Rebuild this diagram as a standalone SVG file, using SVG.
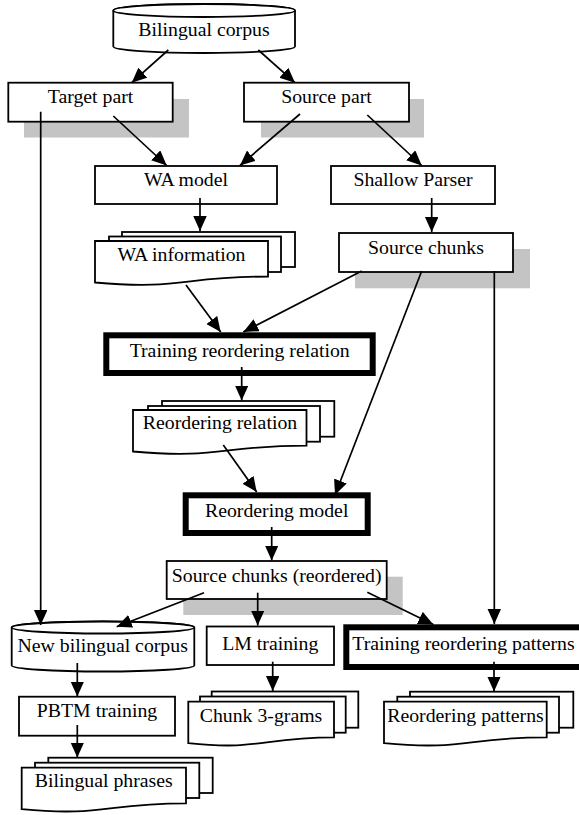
<svg xmlns="http://www.w3.org/2000/svg" width="579" height="815" viewBox="0 0 579 815">
<style>
.box{fill:#fff;stroke:#000;stroke-width:1.8}
.thick{fill:#fff;stroke:#000;stroke-width:6}
.sh{fill:#c4c4c4}
.t{font-family:"Liberation Serif","Times New Roman",serif;font-size:19.8px;fill:#000;text-anchor:middle}
.c{fill:none;stroke:#000;stroke-width:1.7;marker-end:url(#ah)}
</style>
<defs>
<marker id="ah" markerUnits="userSpaceOnUse" markerWidth="16" markerHeight="14" refX="15" refY="6.75" orient="auto" viewBox="0 0 16 14">
<path d="M0,0 L15,6.75 L0,13.5 Z" fill="#000"/>
</marker>
</defs>
<rect width="579" height="815" fill="#fff"/>

<g id="shadows">
<rect class="sh" x="24" y="99" width="165" height="38.5"/>
<rect class="sh" x="261" y="99" width="163" height="38.5"/>
<rect class="sh" x="355" y="249" width="175" height="39.3"/>
<rect class="sh" x="183.3" y="576.7" width="219.4" height="38.3"/>
</g>

<g id="n-bilingual-corpus">
<path class="box" d="M113.3,10.5 A90.85,6.5 0 0 1 295,10.5 V46.5 A90.85,6.5 0 0 1 113.3,46.5 Z"/>
<ellipse class="box" cx="204.15" cy="10.5" rx="90.85" ry="6.5"/>
<text class="t" x="204" y="36">Bilingual corpus</text>
</g>

<g id="n-target-part">
<rect class="box" x="8.3" y="82.7" width="164.4" height="39"/>
<text class="t" x="90.5" y="103.3">Target part</text>
</g>

<g id="n-source-part">
<rect class="box" x="244" y="82.7" width="165" height="39"/>
<text class="t" x="326.5" y="103.3">Source part</text>
</g>

<g id="n-wa-model">
<rect class="box" x="95" y="166" width="182" height="38"/>
<text class="t" x="186" y="186">WA model</text>
</g>

<g id="n-shallow-parser">
<rect class="box" x="331" y="166" width="164" height="38"/>
<text class="t" x="413" y="186">Shallow Parser</text>
</g>

<g id="n-wa-information">
<rect class="box" x="122" y="232" width="173" height="35"/>
<rect class="box" x="109" y="236.5" width="172" height="35.5"/>
<path class="box" d="M95,241 H268 V276.6 C181.5,276.6 181.5,290.1 95,282.5 Z"/>
<text class="t" x="181.5" y="260.5">WA information</text>
</g>

<g id="n-source-chunks">
<rect class="box" x="339" y="233" width="174" height="39"/>
<text class="t" x="426" y="254">Source chunks</text>
</g>

<g id="n-training-reordering-relation">
<rect class="thick" x="106.3" y="335.3" width="266.4" height="37.7"/>
<text class="t" x="239.7" y="356.5">Training reordering relation</text>
</g>

<g id="n-reordering-relation">
<rect class="box" x="162" y="401" width="172.3" height="35.7"/>
<rect class="box" x="148" y="406" width="172" height="35.7"/>
<path class="box" d="M133,410 H306.5 V445.6 C219.75,445.6 219.75,459.1 133,451.5 Z"/>
<text class="t" x="220" y="429">Reordering relation</text>
</g>

<g id="n-reordering-model">
<rect class="thick" x="185.7" y="495.3" width="182" height="37.7"/>
<text class="t" x="276.7" y="517">Reordering model</text>
</g>

<g id="n-source-chunks-reordered">
<rect class="box" x="166.7" y="561" width="220" height="38"/>
<text class="t" x="276.7" y="581.5">Source chunks (reordered)</text>
</g>

<g id="n-new-bilingual-corpus">
<path class="box" d="M11.7,627.5 A91.3,6 0 0 1 194.3,627.5 V665.5 A91.3,6 0 0 1 11.7,665.5 Z"/>
<ellipse class="box" cx="103" cy="627.5" rx="91.3" ry="6"/>
<text class="t" x="102.7" y="651.7">New bilingual corpus</text>
</g>

<g id="n-lm-training">
<rect class="box" x="206.7" y="626.5" width="127.3" height="38.5"/>
<text class="t" x="270.3" y="649.5">LM training</text>
</g>

<g id="n-training-reordering-patterns">
<rect class="thick" x="346.3" y="627.3" width="240" height="39.7"/>
<text class="t" x="463.5" y="650">Training reordering patterns</text>
</g>

<g id="n-pbtm-training">
<rect class="box" x="19" y="696.7" width="156" height="39"/>
<text class="t" x="97" y="717">PBTM training</text>
</g>

<g id="n-chunk-3grams">
<rect class="box" x="211.7" y="691.5" width="146.6" height="36.2"/>
<rect class="box" x="200" y="696.5" width="145.7" height="36.2"/>
<path class="box" d="M188.3,701.7 H334 V737.3 C261.15,737.3 261.15,750.8 188.3,743.2 Z"/>
<text class="t" x="261" y="721.7">Chunk 3-grams</text>
</g>

<g id="n-reordering-patterns">
<rect class="box" x="410" y="691.7" width="163.3" height="36"/>
<rect class="box" x="397.3" y="696.7" width="161.7" height="36"/>
<path class="box" d="M384,701.7 H546.7 V737.3 C465.35,737.3 465.35,750.8 384,743.2 Z"/>
<text class="t" x="465.5" y="721.7">Reordering patterns</text>
</g>

<g id="n-bilingual-phrases">
<rect class="box" x="48.3" y="757.7" width="164.4" height="35.3"/>
<rect class="box" x="35" y="762.7" width="164.3" height="35.3"/>
<path class="box" d="M21.7,767.7 H186 V803.3 C103.85,803.3 103.85,816.8 21.7,809.2 Z"/>
<text class="t" x="103.8" y="786.7">Bilingual phrases</text>
</g>

<g id="connectors">
<path class="c" d="M168.3,50 L131.7,82.7"/>
<path class="c" d="M258.3,50 L295,82.7"/>
<path class="c" d="M113.3,116 L166.7,165.5"/>
<path class="c" d="M300,114 L240,165.5"/>
<path class="c" d="M367.3,115 L421.7,165.5"/>
<path class="c" d="M200,198 L200,231"/>
<path class="c" d="M431.7,198 L431.7,232"/>
<path class="c" d="M186,285 L220.7,332"/>
<path class="c" d="M361.7,271 L243.3,332"/>
<path class="c" d="M241.7,367 L241.7,400.5"/>
<path class="c" d="M223.3,445 L256.7,492"/>
<path class="c" d="M421.7,271 L335,495"/>
<path class="c" d="M271.7,527 L271.7,560.5"/>
<path class="c" d="M40.7,111.7 L40.7,625"/>
<path class="c" d="M204,592.7 L116.7,626.7"/>
<path class="c" d="M257.7,592.7 L257.7,625.5"/>
<path class="c" d="M367.3,592.3 L433.3,624.5"/>
<path class="c" d="M494.3,271 L494.3,624"/>
<path class="c" d="M77.3,663 L77.3,696.5"/>
<path class="c" d="M77.3,725 L77.3,757.5"/>
<path class="c" d="M272.7,661.7 L272.7,691"/>
<path class="c" d="M494,661.7 L494,691.5"/>
</g>
</svg>
